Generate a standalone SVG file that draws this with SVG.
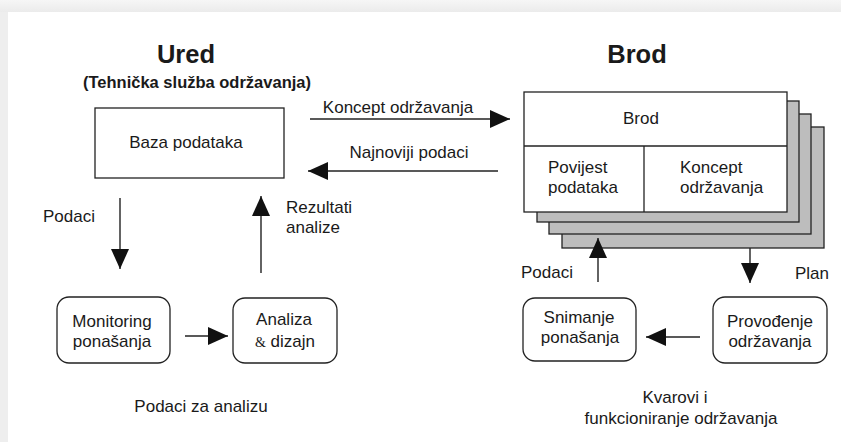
<svg xmlns="http://www.w3.org/2000/svg" width="841" height="442" viewBox="0 0 841 442">
<defs>
<marker id="ah" markerUnits="userSpaceOnUse" markerWidth="20" markerHeight="18" refX="20" refY="9" orient="auto">
<path d="M0,0 L20,9 L0,18 Z" fill="#111"/>
</marker>
<linearGradient id="topg" x1="0" y1="0" x2="0" y2="1">
<stop offset="0" stop-color="#f6f6f6"/>
<stop offset="1" stop-color="#ebebeb"/>
</linearGradient>
</defs>
<style>
text{font-family:"Liberation Sans",Arial,sans-serif;fill:#1a1a1a;font-size:17px}
.t{font-size:25.5px;font-weight:bold}
.st{font-size:16.5px;font-weight:bold}
.box{fill:#fff;stroke:#222;stroke-width:1.3}
.lay{fill:#bdbdbd;stroke:#222;stroke-width:1.3}
.c line{stroke:#222;stroke-width:1.4}
.m{text-anchor:middle}
</style>
<rect x="0" y="0" width="841" height="442" fill="#eeeeee"/>
<rect x="0" y="0" width="841" height="12" fill="url(#topg)"/>
<rect x="8" y="12" width="833" height="430" fill="#ffffff"/>

<g id="titles">
<text class="t m" x="186" y="63">Ured</text>
<text class="st m" x="197" y="88">(Tehnička služba održavanja)</text>
<text class="t m" x="637" y="63">Brod</text>
</g>

<g id="baza">
<rect class="box" x="95" y="108" width="189" height="70"/>
<text class="m" x="186" y="148">Baza podataka</text>
</g>

<g id="brod">
<rect class="lay" x="562" y="127" width="262" height="121"/>
<rect class="lay" x="549" y="114" width="262" height="120"/>
<rect class="lay" x="537" y="101" width="262" height="121"/>
<rect class="box" x="524" y="92" width="263" height="120"/>
<line x1="524" y1="146" x2="787" y2="146" stroke="#222" stroke-width="1.3"/>
<line x1="644" y1="146" x2="644" y2="212" stroke="#222" stroke-width="1.3"/>
<text class="m" x="641" y="124">Brod</text>
<text x="548" y="173">Povijest</text>
<text x="548" y="193">podataka</text>
<text x="680" y="173">Koncept</text>
<text x="680" y="193">održavanja</text>
</g>

<g id="monitoring">
<rect class="box" x="57" y="297" width="113" height="66" rx="12"/>
<text class="m" x="112" y="327">Monitoring</text>
<text class="m" x="112" y="347">ponašanja</text>
</g>

<g id="analiza">
<rect class="box" x="233" y="298" width="104" height="65" rx="12"/>
<text class="m" x="284" y="325">Analiza</text>
<text class="m" x="285" y="347"><tspan style="font-family:'Liberation Serif',serif;font-size:14px">&amp;</tspan> dizajn</text>
</g>

<g id="snimanje">
<rect class="box" x="523" y="298" width="113" height="63" rx="12"/>
<text class="m" x="579" y="323">Snimanje</text>
<text class="m" x="580" y="343">ponašanja</text>
</g>

<g id="provodjenje">
<rect class="box" x="713" y="297" width="114" height="66" rx="12"/>
<text class="m" x="770" y="327">Provođenje</text>
<text class="m" x="770" y="347">održavanja</text>
</g>

<g id="connectors" class="c">
<line x1="310" y1="119" x2="510" y2="119" marker-end="url(#ah)"/>
<line x1="498" y1="171" x2="308" y2="171" marker-end="url(#ah)"/>
<line x1="120" y1="198" x2="120" y2="269" marker-end="url(#ah)"/>
<line x1="261" y1="273" x2="261" y2="196" marker-end="url(#ah)"/>
<line x1="185" y1="336" x2="228" y2="336" marker-end="url(#ah)"/>
<line x1="700" y1="337" x2="646" y2="337" marker-end="url(#ah)"/>
<line x1="598" y1="282" x2="598" y2="238" marker-end="url(#ah)"/>
<line x1="750" y1="248" x2="750" y2="283" marker-end="url(#ah)"/>
</g>

<g id="labels">
<text class="m" x="398" y="113">Koncept održavanja</text>
<text class="m" x="409" y="158">Najnoviji podaci</text>
<text x="43" y="222">Podaci</text>
<text x="286" y="213">Rezultati</text>
<text x="286" y="233">analize</text>
<text class="m" x="201" y="412">Podaci za analizu</text>
<text x="521" y="278">Podaci</text>
<text x="795" y="279">Plan</text>
<text class="m" x="675" y="403">Kvarovi i</text>
<text class="m" x="681" y="424">funkcioniranje održavanja</text>
</g>
</svg>
